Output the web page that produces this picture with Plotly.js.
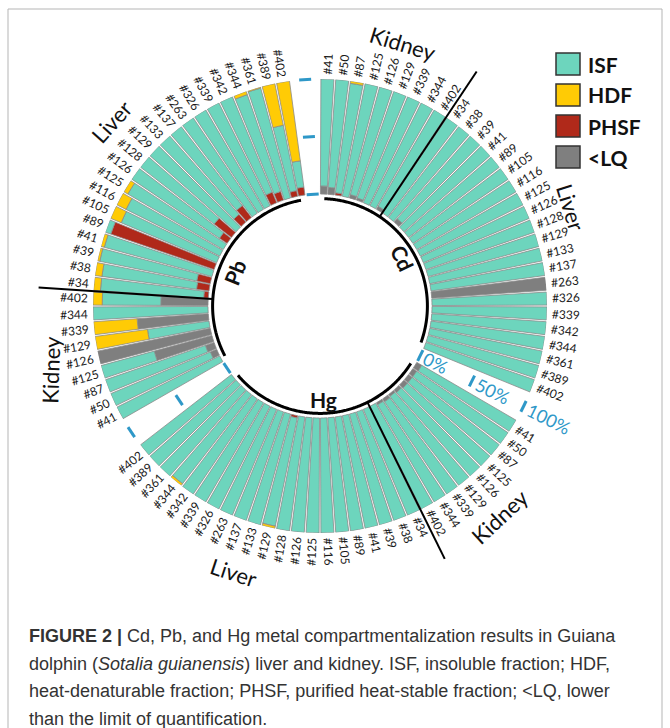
<!DOCTYPE html>
<html><head><meta charset="utf-8">
<script src="https://cdn.plot.ly/plotly-3.0.1.min.js"></script>
<style>html,body{margin:0;padding:0;background:#fff}#chart{width:670px;height:728px}</style>
</head><body><div id="chart"></div>
<script>
// ---------- DATA ----------
const metals = ['Cd', 'Hg', 'Pb'];
const kidneyIds = ['#41','#50','#87','#125','#126', '#129','#339','#344','#402'];
const liverIds = ['#34','#38','#39','#41','#89', '#105','#116','#125','#126','#128',
                  '#129','#133','#137','#263','#326', '#339','#342','#344','#361','#389', '#402'];
const fractionNames = ['ISF', 'HDF', 'PHSF', '<LQ'];
const percentTicks = [0, 50, 100];
const percentLabels = ['0%', '50%', '100%'];

// values in %  (kidney: 9 samples, liver: 21 samples, same order as the id lists)
const cdKidneyLQ   = [7,6,0,0,3, 2,0,0,3];
const cdKidneyPHSF = [0,0,2,0,0, 0,0,0,0];
const cdKidneyISF  = [93,94,96,100,97, 98,100,100,97];
const cdKidneyHDF  = [0,0,2,0,0, 0,0,0,0];
const cdLiverLQ    = [0,0,4,0,0, 0,0,0,0,0, 0,0,0,100,0, 0,0,0,0,0, 0];
const cdLiverPHSF  = [0,0,0,0,0, 0,0,0,0,0, 0,0,0,0,0, 0,0,0,0,0, 0];
const cdLiverISF   = [100,100,96,100,100, 100,100,100,100,100, 100,100,100,0,100, 100,100,100,100,100, 100];
const cdLiverHDF   = [0,0,0,0,0, 0,0,0,0,0, 0,0,0,0,0, 0,0,0,0,0, 0];

const hgKidneyLQ   = [5,4,4,4,3, 2,3,2,0];
const hgKidneyPHSF = [0,0,0,0,0, 0,0,0,0];
const hgKidneyISF  = [95,96,96,96,97, 98,97,98,100];
const hgKidneyHDF  = [0,0,0,0,0, 0,0,0,0];
const hgLiverLQ    = [0,0,0,0,0, 0,0,0,0,0, 0,0,0,0,0, 0,0,0,0,0, 0];
const hgLiverPHSF  = [0,0,0,0,0, 0,0,0,0,0, 2,0,0,0,0, 0,0,0,0,0, 0];
const hgLiverISF   = [100,100,100,100,100, 100,100,100,100,100, 96,100,100,100,100, 100,100,98,100,100, 100];
const hgLiverHDF   = [0,0,0,0,0, 0,0,0,0,0, 2,0,0,0,0, 0,0,2,0,0, 0];

const pbKidneyLQ   = [0,6,8,52,100, 0,62,0,41];
const pbKidneyPHSF = [0,0,0,0,0, 0,0,0,0];
const pbKidneyISF  = [100,94,92,48,0, 54,0,100,51];
const pbKidneyHDF  = [0,0,0,0,0, 46,38,0,8];
const pbLiverLQ    = [0,0,0,0,0, 0,0,0,0,0, 0,0,0,0,0, 0,0,0,0,0, 0];
const pbLiverPHSF  = [4,11,12,0,95, 0,0,0,8,19, 0,9,13,0,0, 0,10,8,0,5, 7];
const pbLiverISF   = [90,83,86,97,5, 90,91,96,92,81, 100,91,87,100,100, 100,90,89,99,58, 23];
const pbLiverHDF   = [6,6,2,3,0, 10,9,4,0,0, 0,0,0,0,0, 0,0,3,1,37, 70];

// ---------- GEOMETRY / STYLE ----------
const W = 670, H = 728, CX = 320, CY = 306;
const SLOT = 360 / 96;           // 30 bars + 2 empty slots per metal
const R0 = 112, K = 1.15, RMIN = -8, RMAX = 100;
const ROUT = R0 + RMAX * K;
const HOLE = (R0 + RMIN * K) / ROUT;
const colors = {ISF: '#6dd5bd', HDF: '#ffcb05', PHSF: '#b0291a', '<LQ': '#7f7f7f'};
const blue = '#2e98c8';

const data = {
  Cd: {kidney: {'<LQ': cdKidneyLQ, PHSF: cdKidneyPHSF, ISF: cdKidneyISF, HDF: cdKidneyHDF},
       liver:  {'<LQ': cdLiverLQ,  PHSF: cdLiverPHSF,  ISF: cdLiverISF,  HDF: cdLiverHDF}},
  Hg: {kidney: {'<LQ': hgKidneyLQ, PHSF: hgKidneyPHSF, ISF: hgKidneyISF, HDF: hgKidneyHDF},
       liver:  {'<LQ': hgLiverLQ,  PHSF: hgLiverPHSF,  ISF: hgLiverISF,  HDF: hgLiverHDF}},
  Pb: {kidney: {'<LQ': pbKidneyLQ, PHSF: pbKidneyPHSF, ISF: pbKidneyISF, HDF: pbKidneyHDF},
       liver:  {'<LQ': pbLiverLQ,  PHSF: pbLiverPHSF,  ISF: pbLiverISF,  HDF: pbLiverHDF}}
};

function P(theta, r) {
  const t = theta * Math.PI / 180;
  return [(CX + r * Math.sin(t)) / W, 1 - (CY - r * Math.cos(t)) / H];
}
const rpx = v => R0 + v * K;
const slotTheta = (mi, i) => (mi * 32 + i + 0.5) * SLOT;

const stackOrder = ['<LQ', 'PHSF', 'ISF', 'HDF'];
const traces = stackOrder.map(f => {
  const r = [], th = [];
  metals.forEach((m, mi) => {
    kidneyIds.forEach((id, i) => {
      const v = data[m].kidney[f][i];
      if (v > 0) { r.push(v); th.push(slotTheta(mi, i)); }
    });
    liverIds.forEach((id, j) => {
      const v = data[m].liver[f][j];
      if (v > 0) { r.push(v); th.push(slotTheta(mi, kidneyIds.length + j)); }
    });
  });
  return {
    type: 'barpolar', name: f, r: r, theta: th, width: SLOT * 0.88,
    marker: {color: colors[f], line: {color: '#8a8a8a', width: 0.8}},
    hoverinfo: 'skip', showlegend: false
  };
});

const nBars = kidneyIds.length + liverIds.length;

// black arcs for each metal
metals.forEach((m, mi) => {
  const a = mi * 32 * SLOT + 2.3, b = (mi * 32 + nBars) * SLOT - 2.3;
  const th = [], rr = [];
  for (let t = a; t <= b + 1e-9; t += 0.5) { th.push(t); rr.push(-4); }
  traces.push({type: 'scatterpolar', mode: 'lines', r: rr, theta: th,
    line: {color: '#000', width: 3}, hoverinfo: 'skip', showlegend: false});
});

const shapes = [];
const annotations = [];

// kidney / liver dividers
metals.forEach((m, mi) => {
  const t = (mi * 32 + kidneyIds.length) * SLOT;
  const p0 = P(t, 108), p1 = P(t, 282);
  shapes.push({type: 'line', xref: 'paper', yref: 'paper', x0: p0[0], y0: p0[1], x1: p1[0], y1: p1[1],
    line: {color: '#000', width: 2}});
});

// percent ticks in gaps
metals.forEach((m, mi) => {
  const tg = (mi * 32 + nBars + 1) * SLOT;
  percentTicks.forEach((v, k) => {
    const r = rpx(v);
    const d = 6 / r * 180 / Math.PI;
    const p0 = P(tg - d, r), p1 = P(tg + d, r);
    shapes.push({type: 'line', xref: 'paper', yref: 'paper', x0: p0[0], y0: p0[1], x1: p1[0], y1: p1[1],
      line: {color: blue, width: 3}});
    if (mi === 0) {
      const txt = percentLabels[k];
      const p = P(tg, r + 6 + txt.length * 0.62 * 18 / 2);
      annotations.push({xref: 'paper', yref: 'paper', x: p[0], y: p[1], text: txt, showarrow: false,
        xanchor: 'center', yanchor: 'middle', textangle: tg - 90,
        font: {family: 'Lato', size: 18, color: blue}});
    }
  });
});

// sample labels
const ids = kidneyIds.concat(liverIds);
metals.forEach((m, mi) => ids.forEach((id, i) => {
  const t = slotTheta(mi, i);
  const p = P(t, 232 + id.length * 3.5);
  annotations.push({xref: 'paper', yref: 'paper', x: p[0], y: p[1], text: id, showarrow: false,
    xanchor: 'center', yanchor: 'middle', textangle: t < 180 ? t - 90 : t - 270,
    font: {family: 'Lato', size: 12, color: '#1a1a1a'}});
}));

// tissue group labels (theta, radius, angle)
const groupLabels = [
  {text: 'Kidney', t: 17.6, r: 275, a: 17},
  {text: 'Liver', t: 68.4, r: 269, a: 73},
  {text: 'Kidney', t: 139.5, r: 277, a: -43},
  {text: 'Liver', t: 197.9, r: 280, a: 18},
  {text: 'Kidney', t: 256.6, r: 277, a: -88},
  {text: 'Liver', t: 311.5, r: 278, a: -48}
];
groupLabels.forEach(g => {
  const p = P(g.t, g.r);
  annotations.push({xref: 'paper', yref: 'paper', x: p[0], y: p[1], text: g.text, showarrow: false,
    xanchor: 'center', yanchor: 'middle', textangle: g.a,
    font: {family: 'Lato', size: 22, color: '#111'}});
});

// metal labels
const metalLabelPos = [{t: 60, r: 96, a: 65}, {t: 178, r: 94, a: 0}, {t: 291.6, r: 92, a: -68}];
metals.forEach((m, mi) => {
  const g = metalLabelPos[mi];
  const p = P(g.t, g.r);
  annotations.push({xref: 'paper', yref: 'paper', x: p[0], y: p[1], text: '<b>' + m + '</b>', showarrow: false,
    xanchor: 'center', yanchor: 'middle', textangle: g.a,
    font: {family: 'Lato', size: 21, color: '#111'}});
});

// legend
fractionNames.forEach((f, k) => {
  const yc = 64 + k * 31;
  shapes.push({type: 'rect', xref: 'paper', yref: 'paper', x0: 556 / W, x1: 580 / W,
    y0: 1 - (yc - 11) / H, y1: 1 - (yc + 11) / H, fillcolor: colors[f], line: {color: '#333', width: 1.5}});
  annotations.push({xref: 'paper', yref: 'paper', x: 586 / W, y: 1 - yc / H, text: '<b>' + f.replace('<', '&lt;') + '</b>',
    showarrow: false, xanchor: 'left', yanchor: 'middle', font: {family: 'Lato', size: 21, color: '#111'}});
});

// caption
const captionLines = [
  '<b>FIGURE 2 |</b> Cd, Pb, and Hg metal compartmentalization results in Guiana',
  'dolphin (<i>Sotalia guianensis</i>) liver and kidney. ISF, insoluble fraction; HDF,',
  'heat-denaturable fraction; PHSF, purified heat-stable fraction; &lt;LQ, lower',
  'than the limit of quantification.'
];
captionLines.forEach((txt, k) => {
  annotations.push({xref: 'paper', yref: 'paper', x: 27 / W, y: 1 - (636 + k * 27.5) / H, text: txt,
    showarrow: false, xanchor: 'left', yanchor: 'middle',
    font: {family: 'Liberation Sans', size: 18, color: '#333'}});
});

// frame
shapes.push({type: 'rect', xref: 'paper', yref: 'paper', x0: 8 / W, x1: 662 / W, y0: 1 - 9 / H, y1: -0.05,
  line: {color: '#b5b5b5', width: 1}});

const layout = {
  width: W, height: H, margin: {l: 0, r: 0, t: 0, b: 0},
  paper_bgcolor: '#fff', showlegend: false,
  polar: {
    domain: {x: [(CX - ROUT) / W, (CX + ROUT) / W], y: [1 - (CY + ROUT) / H, 1 - (CY - ROUT) / H]},
    hole: HOLE, bgcolor: 'rgba(0,0,0,0)', barmode: 'stack', bargap: 0,
    radialaxis: {range: [RMIN, RMAX], visible: false},
    angularaxis: {rotation: 90, direction: 'clockwise', visible: false}
  },
  shapes: shapes, annotations: annotations
};
Plotly.newPlot('chart', traces, layout, {staticPlot: true, displayModeBar: false});
</script></body></html>
